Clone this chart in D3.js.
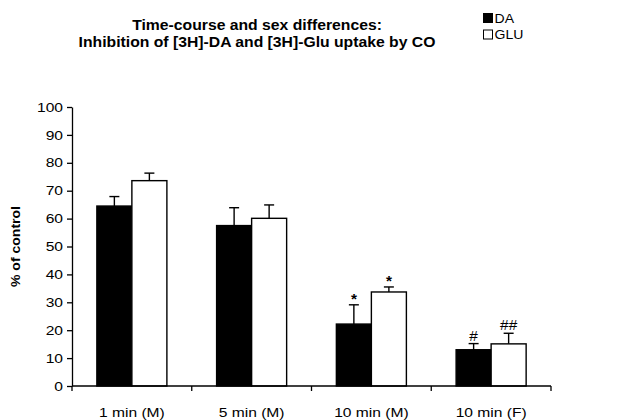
<!DOCTYPE html>
<html>
<head>
<meta charset="utf-8">
<script src="https://cdn.jsdelivr.net/npm/d3@7"></script>
<style>
	body { margin: 0; background: #fff; }
	text { font-family: "Liberation Sans", Arial, Helvetica, sans-serif; fill: #000; }
	.title { font-weight: bold; font-size: 15px; }
	.ylabel { font-weight: bold; font-size: 13px; }
	.axis text { font-size: 13px; }
	.axis path, .axis line { stroke: #000; stroke-width: 1.3px; }
	.legend text { font-size: 13px; }
	.mark { font-size: 14px; }
	.mark.star { font-weight: bold; }
</style>
</head>
<body>
<div id="chart"></div>
<script>
var categories = ["1 min (M)", "5 min (M)", "10 min (M)", "10 min (F)"];
var series = ["DA", "GLU"];
var daMean = [64.5, 57.5, 22.2, 13.0];
var daErr = [3.4, 6.4, 6.9, 2.2];
var gluMean = [73.6, 60.1, 33.7, 15.1];
var gluErr = [2.7, 4.8, 1.8, 3.8];
var daMarks = ["", "", "*", "#"];
var gluMarks = ["", "", "*", "##"];
var yTicks = [0, 10, 20, 30, 40, 50, 60, 70, 80, 90, 100];
var titleLines = ["Time-course and sex differences:", "Inhibition of [3H]-DA and [3H]-Glu uptake by CO"];

var W = 627, H = 420;
var margin = { top: 107, right: 76, bot: 34, left: 72 };
var w = W - margin.left - margin.right, h = H - margin.top - margin.bot;
var stretch = 1.2; // source font is wider than Liberation Sans

var svg = d3.select("#chart").append("svg").attr("width", W).attr("height", H);
var g = svg.append("g").attr("transform", "translate(" + margin.left + "," + margin.top + ")");

var xSc = d3.scaleBand().domain(categories).range([0, w]);
var sSc = d3.scaleBand().domain(series).range([0, xSc.bandwidth()]).paddingOuter(0.71);
var ySc = d3.scaleLinear().domain([0, 100]).range([h, 0]);

var colors = { DA: "#000", GLU: "#fff" };

// rows: one per category/series
var rows = [];
categories.forEach(function(c, i) {
	rows.push({ cat: c, s: "DA", v: daMean[i], e: daErr[i], m: daMarks[i] });
	rows.push({ cat: c, s: "GLU", v: gluMean[i], e: gluErr[i], m: gluMarks[i] });
});

// y axis
var yAxis = d3.axisLeft(ySc).tickValues(yTicks).tickSize(5).tickSizeOuter(0).tickPadding(4);
var yG = g.append("g").attr("class", "axis").call(yAxis);
yG.selectAll("text").each(function() {
	var t = d3.select(this);
	t.attr("transform", "scale(" + stretch + ",1)").attr("x", +t.attr("x") / stretch);
});

// error bars (drawn under bars)
var eb = g.append("g").selectAll("g").data(rows).enter().append("g")
	.attr("transform", function(d) { return "translate(" + (xSc(d.cat) + sSc(d.s) + sSc.bandwidth() / 2) + ",0)"; });
eb.append("line").attr("x1", 0).attr("x2", 0)
	.attr("y1", function(d) { return ySc(d.v); })
	.attr("y2", function(d) { return ySc(d.v + d.e); })
	.attr("stroke", "#000").attr("stroke-width", 1.4);
eb.append("line").attr("x1", -5).attr("x2", 5)
	.attr("y1", function(d) { return ySc(d.v + d.e); })
	.attr("y2", function(d) { return ySc(d.v + d.e); })
	.attr("stroke", "#000").attr("stroke-width", 1.4);
eb.append("text").attr("class", function(d) { return d.m == "*" ? "mark star" : "mark"; })
	.attr("text-anchor", "middle")
	.attr("transform", function(d) {
		var off = d.m == "*" ? -0.5 : -3;
		return "translate(0," + (ySc(d.v + d.e) + off) + ") scale(1.1,1)";
	})
	.text(function(d) { return d.m; });

// bars
g.append("g").selectAll("rect").data(rows).enter().append("rect")
	.attr("x", function(d) { return xSc(d.cat) + sSc(d.s); })
	.attr("y", function(d) { return ySc(d.v); })
	.attr("width", sSc.bandwidth())
	.attr("height", function(d) { return h - ySc(d.v); })
	.attr("fill", function(d) { return colors[d.s]; })
	.attr("stroke", "#000").attr("stroke-width", 1.4);

// x axis: line, ticks at category boundaries, labels centered
var xG = g.append("g").attr("class", "axis").attr("transform", "translate(0," + h + ")");
xG.append("path").attr("d", "M0,0H" + w);
var bounds = categories.map(function(c) { return xSc(c); }).concat([w]);
xG.selectAll(".tk").data(bounds).enter().append("line").attr("class", "tk")
	.attr("x1", function(d) { return d; }).attr("x2", function(d) { return d; })
	.attr("y1", 0).attr("y2", 5);
xG.selectAll(".lbl").data(categories).enter().append("text").attr("class", "lbl")
	.attr("text-anchor", "middle")
	.attr("transform", function(d) { return "translate(" + (xSc(d) + xSc.bandwidth() / 2) + ",31) scale(" + stretch + ",1)"; })
	.text(function(d) { return d; });

// y label
svg.append("text").attr("class", "ylabel").attr("text-anchor", "middle")
	.attr("transform", "translate(20," + (margin.top + ySc(50)) + ") rotate(-90) scale(1.08,1)")
	.text("% of control");

// title
svg.selectAll(".title").data(titleLines).enter().append("text").attr("class", "title")
	.attr("text-anchor", "middle")
	.attr("transform", function(d, i) { return "translate(257," + (29.5 + i * 17.5) + ") scale(1.05,1)"; })
	.text(function(d) { return d; });

// legend
var leg = svg.append("g").attr("class", "legend").attr("transform", "translate(483,13)");
var li = leg.selectAll("g").data(series).enter().append("g")
	.attr("transform", function(d, i) { return "translate(0," + (i * 16.5) + ")"; });
li.append("rect").attr("x", 0.5).attr("y", 0.5).attr("width", 9).attr("height", 9)
	.attr("fill", function(d) { return colors[d]; }).attr("stroke", "#000").attr("stroke-width", 1);
li.append("text").attr("transform", "translate(11.5,9.7) scale(1.08,1)").text(function(d) { return d; });
</script>
</body>
</html>
